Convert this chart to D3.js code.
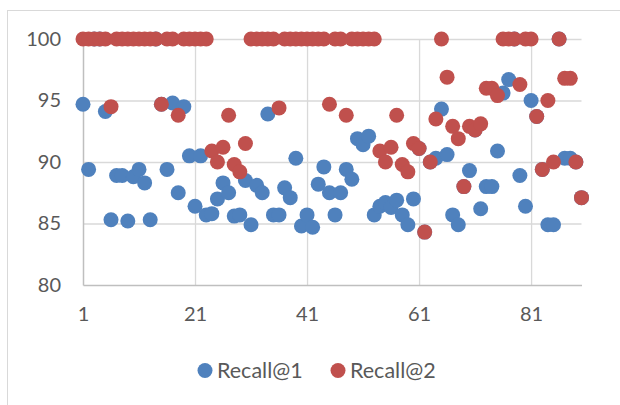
<!DOCTYPE html>
<html>
<head>
<meta charset="utf-8">
<script src="https://d3js.org/d3.v7.min.js"></script>
<style>
  body { margin: 0; background: #fff; }
  text { font-family: Lato, "Liberation Sans", sans-serif; fill: #595959; }
</style>
</head>
<body>
<div id="canvas"></div>
<script>
var seriesNames = ["Recall@1", "Recall@2"];
var seriesColors = ["#4f81bd", "#c0504d"];

var recall1 = [
  94.7, 89.4, 100, 100, 94.1, 85.3, 88.9, 88.9, 85.2, 88.8,
  89.4, 88.3, 85.3, 100, 94.7, 89.4, 94.8, 87.5, 94.5, 90.5,
  86.4, 90.5, 85.7, 85.8, 87.0, 88.3, 87.5, 85.6, 85.7, 88.5,
  84.9, 88.1, 87.5, 93.9, 85.7, 85.7, 87.9, 87.1, 90.3, 84.8,
  85.7, 84.7, 88.2, 89.6, 87.5, 85.7, 87.5, 89.4, 88.6, 91.9,
  91.4, 92.1, 85.7, 86.4, 86.7, 86.3, 86.9, 85.7, 84.9, 87.0,
  91.1, 84.3, 90.0, 90.3, 94.3, 90.6, 85.7, 84.9, 88.0, 89.3,
  92.6, 86.2, 88.0, 88.0, 90.9, 95.6, 96.7, 100, 88.9, 86.4,
  95.0, 93.7, 89.4, 84.9, 84.9, 100, 90.3, 90.3, 90.0, 87.1
];

var recall2 = [
  100, 100, 100, 100, 100, 94.5, 100, 100, 100, 100,
  100, 100, 100, 100, 94.7, 100, 100, 93.8, 100, 100,
  100, 100, 100, 90.9, 90.0, 91.2, 93.8, 89.8, 89.2, 91.5,
  100, 100, 100, 100, 100, 94.4, 100, 100, 100, 100,
  100, 100, 100, 100, 94.7, 100, 100, 93.8, 100, 100,
  100, 100, 100, 90.9, 90.0, 91.2, 93.8, 89.8, 89.2, 91.5,
  91.1, 84.3, 90.0, 93.5, 100, 96.9, 92.9, 91.9, 88.0, 92.9,
  92.6, 93.1, 96.0, 96.0, 95.4, 100, 100, 100, 96.3, 100,
  100, 93.7, 89.4, 95.0, 90.0, 100, 96.8, 96.8, 90.0, 87.1
];

var xTicks = [1, 21, 41, 61, 81];
var yTicks = [80, 85, 90, 95, 100];

var W = 620, H = 405;
var margin = { top: 39, right: 38.5, bottom: 120, left: 83 };
var width = W - margin.left - margin.right;
var height = H - margin.top - margin.bottom;

var svg = d3.select("#canvas").append("svg")
  .attr("width", W)
  .attr("height", H);

// chart border (cropped at right and bottom in the reference)
svg.append("rect")
  .attr("x", 7.5).attr("y", 10.5)
  .attr("width", W + 10).attr("height", H + 10)
  .attr("fill", "none")
  .attr("stroke", "#d9d9d9");

var g = svg.append("g")
  .attr("transform", "translate(" + margin.left + "," + margin.top + ")");

var x = d3.scaleLinear().domain([1, 90]).range([0, width]);
var y = d3.scaleLinear().domain([80, 100]).range([height, 0]);

// gridlines
g.append("g")
  .call(d3.axisLeft(y).tickValues(yTicks.slice(1)).tickSize(-width).tickFormat(""))
  .call(function (a) { a.select(".domain").remove(); })
  .selectAll("line").attr("stroke", "#d9d9d9").attr("stroke-width", 1.3);

g.append("g")
  .attr("transform", "translate(0," + height + ")")
  .call(d3.axisBottom(x).tickValues(xTicks.slice(1)).tickSize(-height).tickFormat(""))
  .call(function (a) { a.select(".domain").remove(); })
  .selectAll("line").attr("stroke", "#d9d9d9").attr("stroke-width", 1.3);

// axes
var yAxis = g.append("g")
  .call(d3.axisLeft(y).tickValues(yTicks).tickSize(0).tickPadding(22));
yAxis.select(".domain").attr("stroke", "#bfbfbf").attr("stroke-width", 1.5);
yAxis.selectAll("text").attr("font-size", "20px");

var xAxis = g.append("g")
  .attr("transform", "translate(0," + height + ")")
  .call(d3.axisBottom(x).tickValues(xTicks).tickSize(0).tickPadding(22));
xAxis.select(".domain").attr("stroke", "#bfbfbf").attr("stroke-width", 1.5);
xAxis.selectAll("text").attr("font-size", "20px");

// points, Recall@2 drawn over Recall@1
[recall1, recall2].forEach(function (vals, s) {
  g.append("g").selectAll("circle")
    .data(vals).enter()
    .append("circle")
    .attr("cx", function (d, i) { return x(i + 1); })
    .attr("cy", function (d) { return y(d); })
    .attr("r", 7.5)
    .attr("fill", seriesColors[s]);
});

// legend
var legend = svg.append("g");
var legendX = [205, 338];
seriesNames.forEach(function (name, s) {
  legend.append("circle")
    .attr("cx", legendX[s]).attr("cy", 370.5)
    .attr("r", 7.5)
    .attr("fill", seriesColors[s]);
  legend.append("text")
    .attr("x", legendX[s] + 12).attr("y", 378)
    .attr("font-size", "21.5px")
    .text(name);
});
</script>
</body>
</html>
